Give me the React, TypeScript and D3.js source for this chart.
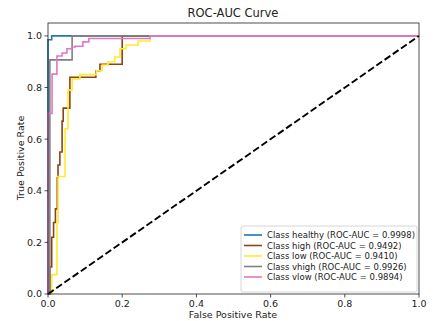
import React from 'react';
import * as d3 from 'd3';

// ROC points, [fpr, tpr]
const healthyRoc: [number, number][] = [
  [0, 0], [0, 0.985], [0.01, 0.985], [0.01, 1], [1, 1],
];
const highRoc: [number, number][] = [
  [0, 0], [0.005, 0], [0.005, 0.105], [0.01, 0.105], [0.01, 0.22], [0.015, 0.22],
  [0.015, 0.277], [0.02, 0.277], [0.02, 0.33], [0.025, 0.33], [0.025, 0.45],
  [0.027, 0.45], [0.027, 0.5], [0.032, 0.5], [0.032, 0.55], [0.038, 0.55],
  [0.038, 0.67], [0.041, 0.67], [0.041, 0.72], [0.059, 0.72], [0.059, 0.84],
  [0.129, 0.84], [0.129, 0.865], [0.14, 0.865], [0.14, 0.89], [0.2, 0.89],
  [0.2, 1], [1, 1],
];
const lowRoc: [number, number][] = [
  [0, 0], [0.01, 0], [0.01, 0.075], [0.024, 0.075], [0.024, 0.277], [0.027, 0.277],
  [0.027, 0.455], [0.046, 0.455], [0.046, 0.64], [0.054, 0.64], [0.054, 0.79],
  [0.065, 0.79], [0.065, 0.833], [0.086, 0.833], [0.086, 0.85], [0.13, 0.85],
  [0.13, 0.865], [0.146, 0.865], [0.146, 0.887], [0.162, 0.887], [0.162, 0.9],
  [0.18, 0.9], [0.18, 0.918], [0.194, 0.918], [0.194, 0.95], [0.21, 0.95],
  [0.21, 0.965], [0.243, 0.965], [0.243, 0.98], [0.275, 0.98], [0.275, 1], [1, 1],
];
const vhighRoc: [number, number][] = [
  [0, 0], [0.005, 0], [0.005, 0.907], [0.065, 0.907], [0.065, 1], [1, 1],
];
const vlowRoc: [number, number][] = [
  [0, 0], [0, 0.7], [0.011, 0.7], [0.011, 0.852], [0.024, 0.852], [0.024, 0.922],
  [0.038, 0.922], [0.038, 0.934], [0.051, 0.934], [0.051, 0.95], [0.065, 0.95],
  [0.065, 0.957], [0.073, 0.957], [0.073, 0.96], [0.094, 0.96], [0.094, 0.977],
  [0.11, 0.977], [0.11, 0.99], [0.275, 0.99], [0.275, 1], [1, 1],
];

const classNames = ['healthy', 'high', 'low', 'vhigh', 'vlow'];
const aucValues = ['0.9998', '0.9492', '0.9410', '0.9926', '0.9894'];
const colors = ['#1f77b4', '#8b4513', '#ffea2e', '#808080', '#e377c2'];
const curves = [healthyRoc, highRoc, lowRoc, vhighRoc, vlowRoc];
const ticks = [0, 0.2, 0.4, 0.6, 0.8, 1.0];

const W = 440;
const H = 321;
const font = 'DejaVu Sans, sans-serif';

export default function App() {
  const x = d3.scaleLinear().domain([0, 1]).range([48, 419]);
  const y = d3.scaleLinear().domain([0, 1.05]).range([294, 23]);
  const line = d3.line<[number, number]>().x(d => x(d[0])).y(d => y(d[1]));

  // legend box
  const lx = 241, ly = 226, lw = 176, lh = 66;

  return (
    <svg width={W} height={H} style={{ position: 'absolute', left: 0, top: 0 }}
      fontFamily={font}>
      <rect width={W} height={H} fill="#fff" />
      <text x={233} y={17} textAnchor="middle" fontSize={11.5} fill="#222">ROC-AUC Curve</text>

      {curves.map((c, i) => (
        <path key={i} d={line(c) ?? ''} fill="none" stroke={colors[i]} strokeWidth={1.6} />
      ))}
      <path d={line([[0, 0], [1, 1]]) ?? ''} fill="none" stroke="#000" strokeWidth={1.9}
        strokeDasharray="7,3" />

      <rect x={48} y={23} width={371} height={271} fill="none" stroke="#222" strokeWidth={0.8} />

      {ticks.map(t => (
        <g key={'x' + t}>
          <line x1={x(t)} x2={x(t)} y1={294} y2={297.5} stroke="#222" strokeWidth={0.8} />
          <text x={x(t)} y={307} textAnchor="middle" fontSize={9.5} fill="#222">{t.toFixed(1)}</text>
        </g>
      ))}
      {ticks.map(t => (
        <g key={'y' + t}>
          <line x1={44.5} x2={48} y1={y(t)} y2={y(t)} stroke="#222" strokeWidth={0.8} />
          <text x={42} y={y(t) + 3.4} textAnchor="end" fontSize={9.5} fill="#222">{t.toFixed(1)}</text>
        </g>
      ))}

      <text x={233} y={318} textAnchor="middle" fontSize={9.5} fill="#222">False Positive Rate</text>
      <text transform={`translate(24,158) rotate(-90)`} textAnchor="middle" fontSize={9.5}
        fill="#222">True Positive Rate</text>

      <rect x={lx} y={ly} width={lw} height={lh} rx={2} fill="#fff" fillOpacity={0.8}
        stroke="#ccc" strokeWidth={0.8} />
      {classNames.map((n, i) => (
        <g key={n}>
          <line x1={lx + 3} x2={lx + 21} y1={ly + 9 + i * 10.5} y2={ly + 9 + i * 10.5}
            stroke={colors[i]} strokeWidth={1.6} />
          <text x={lx + 26} y={ly + 12.2 + i * 10.5} fontSize={8.5} fill="#222">
            {`Class ${n} (ROC-AUC = ${aucValues[i]})`}
          </text>
        </g>
      ))}
    </svg>
  );
}
